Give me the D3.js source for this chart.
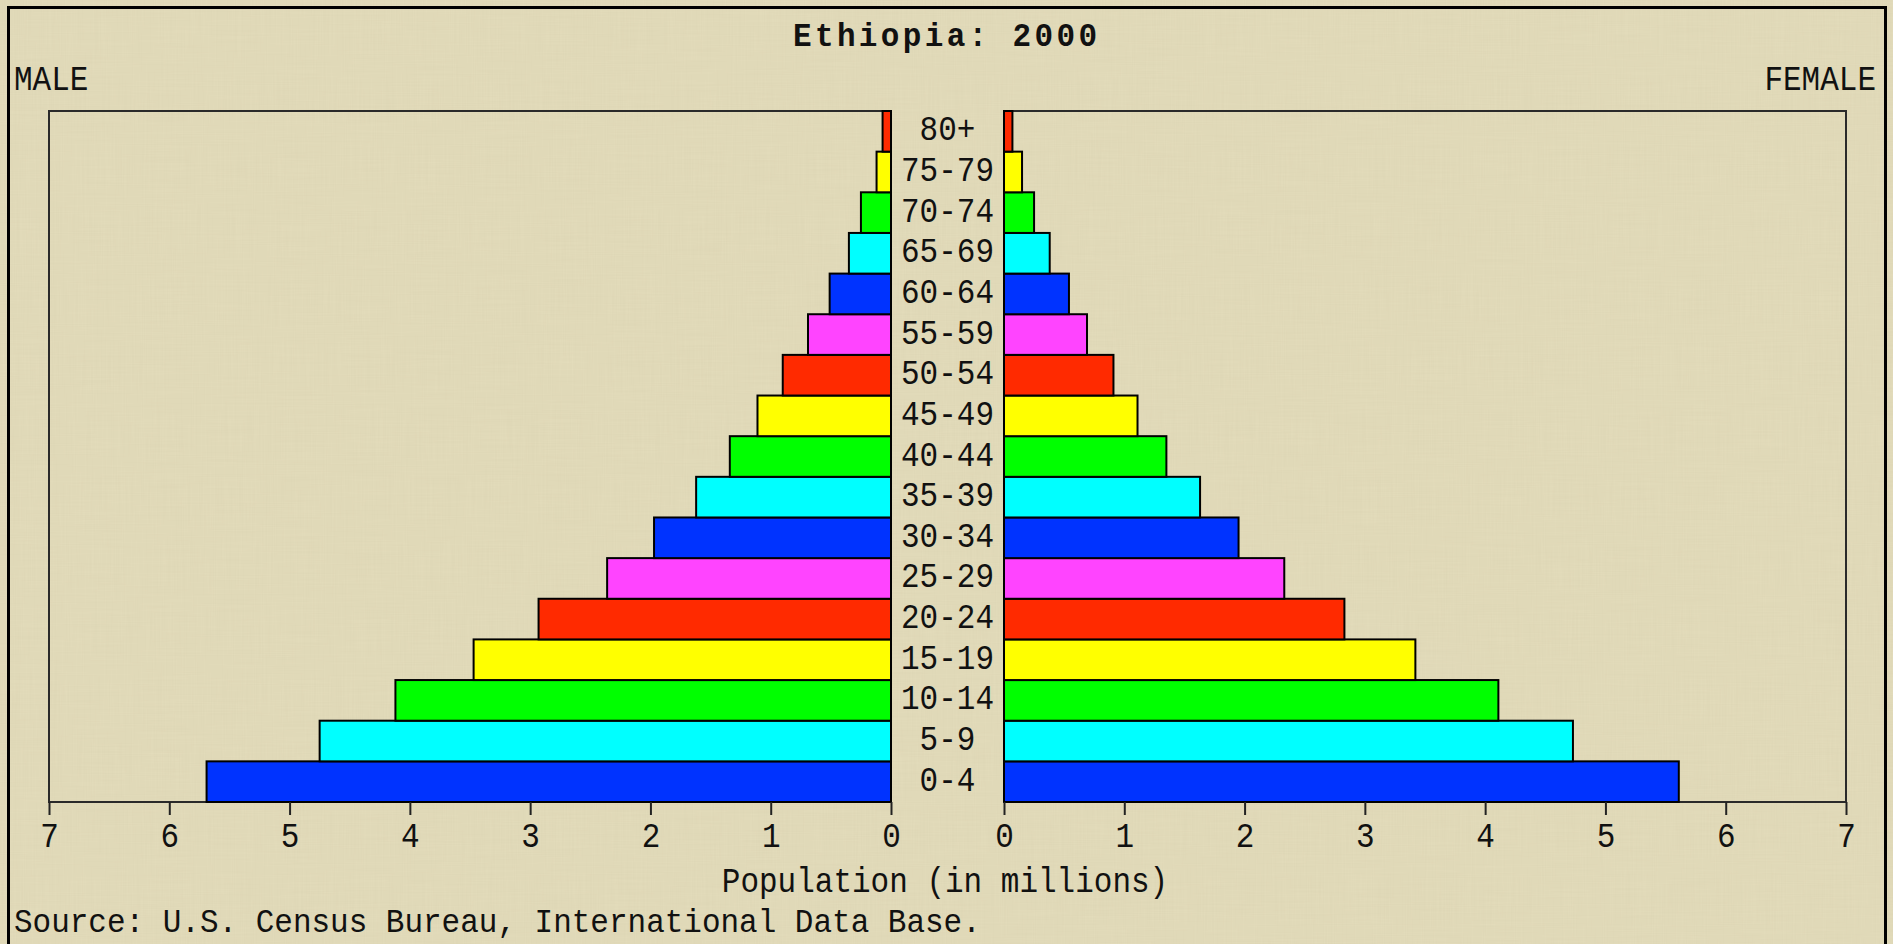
<!DOCTYPE html>
<html>
<head>
<meta charset="utf-8">
<script src="https://cdn.jsdelivr.net/npm/d3@7"></script>
<style>
  html, body { margin: 0; padding: 0; background: #e4ddbc; overflow: hidden; }
  svg { display: block; }
  text { font-family: "Liberation Mono", "DejaVu Sans Mono", monospace; fill: #111; }
</style>
</head>
<body>
<script>
// ---- data ----
const ageGroups = ["0-4","5-9","10-14","15-19","20-24","25-29","30-34","35-39","40-44",
                   "45-49","50-54","55-59","60-64","65-69","70-74","75-79","80+"];
const maleValues   = [5.69, 4.75, 4.12, 3.47, 2.93, 2.36, 1.97, 1.62, 1.34,
                      1.11, 0.90, 0.69, 0.51, 0.35, 0.25, 0.12, 0.07];
const femaleValues = [5.61, 4.73, 4.11, 3.42, 2.83, 2.33, 1.95, 1.63, 1.35,
                      1.11, 0.91, 0.69, 0.54, 0.38, 0.25, 0.15, 0.07];
const tickValues = [0, 1, 2, 3, 4, 5, 6, 7];
const barColors = ["#0033ff", "#00ffff", "#00ff00", "#ffff00", "#ff2a00", "#ff44ff"];
const titleText = "Ethiopia: 2000";
const axisTitle = "Population (in millions)";
const sourceText = "Source: U.S. Census Bureau, International Data Base.";

// ---- layout ----
const W = 1893, H = 944;
const plotTop = 111, plotBottom = 802;
const leftOuter = 49, leftZero = 891, rightZero = 1004, rightOuter = 1846;
const FS = 31;      // font size for plain text
const VS = 1.12;    // vertical stretch to mimic the tall pixel font

const svg = d3.select("body").append("svg").attr("width", W).attr("height", H);

// subtle linen texture
const defs = svg.append("defs");
const filt = defs.append("filter").attr("id", "linen").attr("x", 0).attr("y", 0).attr("width", "100%").attr("height", "100%");
filt.append("feTurbulence").attr("type", "fractalNoise").attr("baseFrequency", "0.9 0.015").attr("numOctaves", 2).attr("seed", 3).attr("result", "n1");
filt.append("feColorMatrix").attr("in", "n1").attr("type", "matrix")
  .attr("values", "0 0 0 0 0.45  0 0 0 0 0.40  0 0 0 0 0.25  0 0 0 0.08 0");
const filt2 = defs.append("filter").attr("id", "linen2").attr("x", 0).attr("y", 0).attr("width", "100%").attr("height", "100%");
filt2.append("feTurbulence").attr("type", "fractalNoise").attr("baseFrequency", "0.015 0.9").attr("numOctaves", 2).attr("seed", 7).attr("result", "n2");
filt2.append("feColorMatrix").attr("in", "n2").attr("type", "matrix")
  .attr("values", "0 0 0 0 0.45  0 0 0 0 0.40  0 0 0 0 0.25  0 0 0 0.08 0");

svg.append("rect").attr("width", W).attr("height", H).attr("fill", "#e4ddbc");
svg.append("rect").attr("width", W).attr("height", H).attr("filter", "url(#linen)");
svg.append("rect").attr("width", W).attr("height", H).attr("filter", "url(#linen2)");

// outer border
svg.append("rect").attr("x", 8.5).attr("y", 7.5).attr("width", 1877).attr("height", 950)
  .attr("fill", "none").attr("stroke", "#000").attr("stroke-width", 3);

// scales
const y = d3.scaleBand().domain(ageGroups.slice().reverse()).range([plotTop, plotBottom]).padding(0);
const xL = d3.scaleLinear().domain([0, 7]).range([leftZero, leftOuter]);
const xR = d3.scaleLinear().domain([0, 7]).range([rightZero, rightOuter]);

// panel frames
svg.append("rect").attr("x", leftOuter).attr("y", plotTop).attr("width", leftZero - leftOuter).attr("height", plotBottom - plotTop)
  .attr("fill", "none").attr("stroke", "#2a2a2a").attr("stroke-width", 2);
svg.append("rect").attr("x", rightZero).attr("y", plotTop).attr("width", rightOuter - rightZero).attr("height", plotBottom - plotTop)
  .attr("fill", "none").attr("stroke", "#2a2a2a").attr("stroke-width", 2);

// bars
const rows = ageGroups.map((a, i) => ({ age: a, m: maleValues[i], f: femaleValues[i], c: barColors[i % barColors.length] }));
svg.append("g").selectAll("rect").data(rows).join("rect")
  .attr("x", d => xL(d.m)).attr("y", d => y(d.age))
  .attr("width", d => xL(0) - xL(d.m)).attr("height", y.bandwidth())
  .attr("fill", d => d.c).attr("stroke", "#000").attr("stroke-width", 2);
svg.append("g").selectAll("rect").data(rows).join("rect")
  .attr("x", xR(0)).attr("y", d => y(d.age))
  .attr("width", d => xR(d.f) - xR(0)).attr("height", y.bandwidth())
  .attr("fill", d => d.c).attr("stroke", "#000").attr("stroke-width", 2);

// helper: text placed at (x, baseline) with vertical stretch
function stretchText(sel, x, yb, vs) {
  return sel.attr("transform", `translate(${x},${yb}) scale(1,${vs || VS})`).attr("x", 0).attr("y", 0);
}

// age labels
svg.append("g").selectAll("text").data(rows).join("text")
  .attr("transform", d => `translate(${(leftZero + rightZero) / 2},${y(d.age) + y.bandwidth() / 2 + 9}) scale(1,${VS})`)
  .attr("text-anchor", "middle").attr("font-size", FS)
  .text(d => d.age);

// axes
function styleAxis(g) {
  g.select(".domain").remove();
  g.selectAll(".tick line").attr("stroke", "#222").attr("stroke-width", 2);
  g.selectAll(".tick text").attr("y", 0).attr("dy", 0)
    .attr("transform", `translate(0,45) scale(1,${VS})`)
    .attr("font-family", "Liberation Mono, DejaVu Sans Mono, monospace")
    .attr("font-size", FS).attr("fill", "#111");
}
svg.append("g").attr("transform", `translate(0,${plotBottom})`)
  .call(d3.axisBottom(xL).tickValues(tickValues).tickFormat(d3.format("d")).tickSize(13))
  .call(styleAxis);
svg.append("g").attr("transform", `translate(0,${plotBottom})`)
  .call(d3.axisBottom(xR).tickValues(tickValues).tickFormat(d3.format("d")).tickSize(13))
  .call(styleAxis);

// texts
svg.append("text").attr("transform", `translate(945,46) scale(1,1.05)`).attr("text-anchor", "middle")
  .attr("font-family", "DejaVu Sans Mono, monospace")
  .attr("font-size", 31).attr("font-weight", "bold")
  .attr("textLength", 304).attr("lengthAdjust", "spacing").text(titleText);
stretchText(svg.append("text"), 14, 90).attr("font-size", FS).text("MALE");
stretchText(svg.append("text"), 1876, 90).attr("text-anchor", "end").attr("font-size", FS).text("FEMALE");
stretchText(svg.append("text"), 945, 892).attr("text-anchor", "middle").attr("font-size", FS).text(axisTitle);
stretchText(svg.append("text"), 14, 932, 1.05).attr("font-size", FS).text(sourceText);
</script>
</body>
</html>
